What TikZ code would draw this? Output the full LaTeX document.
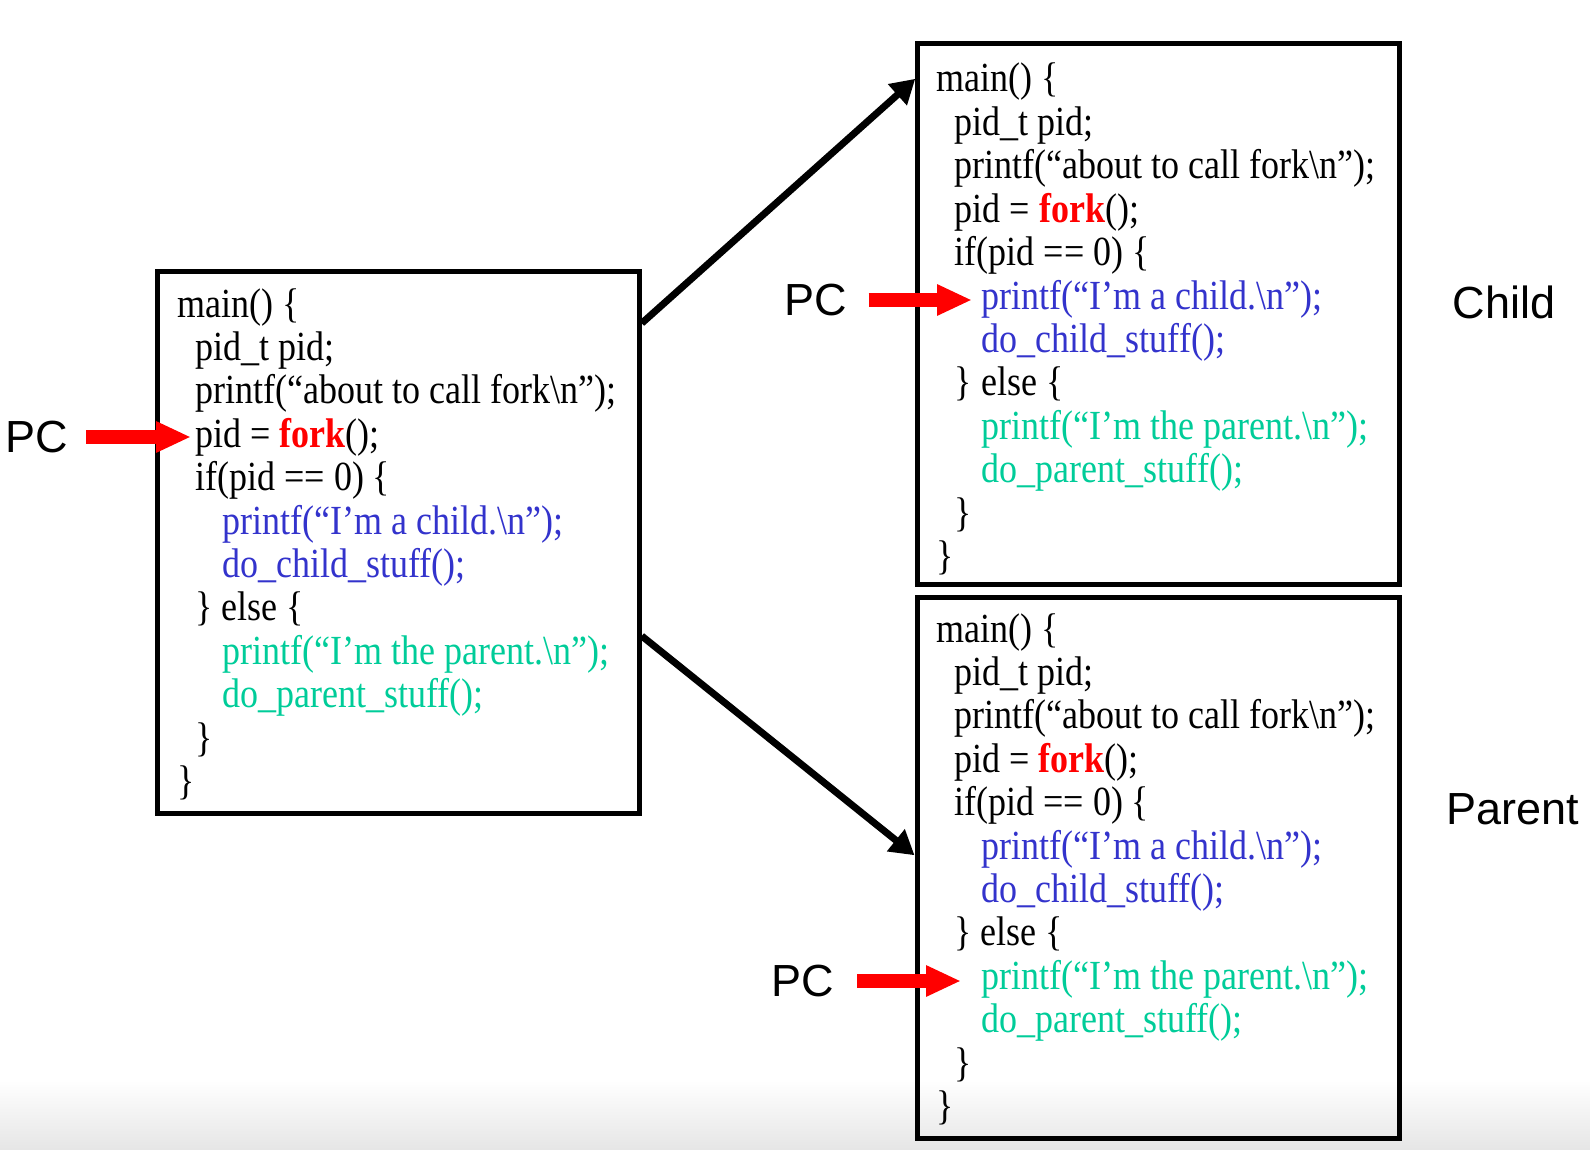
\documentclass[tikz,border=0pt]{standalone}
\usepackage{fontspec}
\setmainfont{Liberation Serif}
\newfontfamily\labelfont{Liberation Sans}
\usetikzlibrary{arrows.meta}

\definecolor{childblue}{RGB}{51,51,204}
\definecolor{parentgreen}{RGB}{0,204,153}
\definecolor{forkred}{RGB}{255,0,0}

% the program text shown in each box
\newcommand{\forkcode}{%
\scalebox{1}[1.15]{\begin{tabular}[t]{@{}l@{}}
main() \{\\
\hspace*{9pt}pid\_t pid;\\
\hspace*{9pt}printf(“about to call fork\textbackslash n”);\\
\hspace*{9pt}pid = \textbf{\color{forkred}fork}();\\
\hspace*{9pt}if(pid == 0) \{\\
\hspace*{22.5pt}\color{childblue}printf(“I’m a child.\textbackslash n”);\\
\hspace*{22.5pt}\color{childblue}do\_child\_stuff();\\
\hspace*{9pt}\} else \{\\
\hspace*{22.5pt}\color{parentgreen}printf(“I’m the parent.\textbackslash n”);\\
\hspace*{22.5pt}\color{parentgreen}do\_parent\_stuff();\\
\hspace*{9pt}\}\\
\}
\end{tabular}}}

\tikzset{
  codebox/.style={draw, line width=2.5pt, inner sep=0pt,
    minimum width=241pt, minimum height=270.5pt},
  code/.style={anchor=base west, inner sep=0pt,
    font=\fontsize{18}{18.87}\selectfont},
  pclabel/.style={inner sep=0pt, font=\labelfont\fontsize{22.5}{27}\selectfont},
  pcarrow/.style={-{Triangle[length=17.5pt, width=14.5pt]}, line width=7pt, forkred},
  forkarrow/.style={-{Triangle[length=12pt, width=13.5pt]}, line width=3.5pt},
}

\begin{document}
\begin{tikzpicture}[x=0.5pt, y=-0.5pt]
\useasboundingbox (0, 0) rectangle (1590, 1150);
\shade[top color=white, bottom color=black!10] (0, 1080) rectangle (1590, 1150);

% the three copies of the program
\node[codebox] (before) at (398.25, 542.5) {};
\node[codebox] (child) at (1158.75, 314) {};
\node[codebox] (parent) at (1158, 868) {};
\node[code] (beforecode) at (177, 317) {\forkcode};
\node[code] (childcode) at (936.5, 92) {\forkcode};
\node[code] (parentcode) at (936, 642) {\forkcode};

\draw[forkarrow] (before.42.2) -- (child.136.2);
\draw[forkarrow] (before.-21.2) -- (parent.177.4);

% program counters
\node[pclabel] (pcbefore) at (36.5, 437) {PC};
\node[pclabel] (pcchild) at (816, 300) {PC};
\node[pclabel] (pcparent) at (802.5, 981) {PC};
\coordinate (pcbeforetip) at (191, 437);
\coordinate (pcchildtip) at (972, 300);
\coordinate (pcparenttip) at (961, 981);
\draw[pcarrow] ([xshift=9pt]pcbefore.east) -- (pcbeforetip);
\draw[pcarrow] ([xshift=10.5pt]pcchild.east) -- (pcchildtip);
\draw[pcarrow] ([xshift=11.5pt]pcparent.east) -- (pcparenttip);

\node[pclabel] (childlabel) at (1504, 302) {Child};
\node[pclabel] (parentlabel) at (1512.5, 809) {Parent};
\end{tikzpicture}
\end{document}
